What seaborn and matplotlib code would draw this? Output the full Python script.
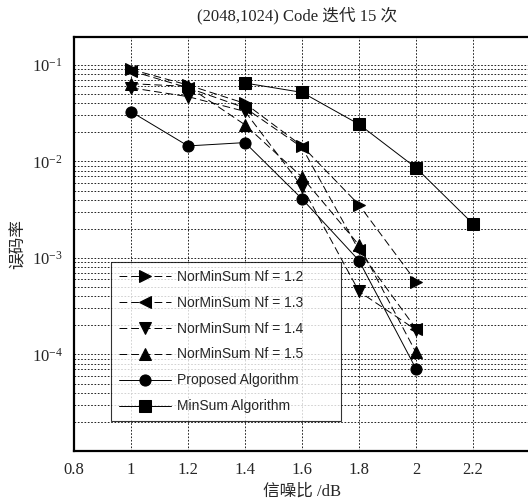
import pandas as pd
import numpy as np
import matplotlib
matplotlib.use("Agg")
import matplotlib.pyplot as plt
from matplotlib.ticker import FixedLocator, LogLocator, NullFormatter
import seaborn as sns

# values
snr = [1.0, 1.2, 1.4, 1.6, 1.8, 2.0]
snr_minsum = [1.4, 1.6, 1.8, 2.0, 2.2]

ber_nf12 = [0.090, 0.062, 0.040, 0.0145, 0.00355, 0.00057]
ber_nf13 = [0.087, 0.058, 0.036, 0.0140, 0.00120, 0.000185]
ber_nf14 = [0.058, 0.047, 0.033, 0.0055, 0.00045, 0.000180]
ber_nf15 = [0.064, 0.060, 0.024, 0.0069, 0.00136, 0.000105]
ber_proposed = [0.0328, 0.0145, 0.0157, 0.0041, 0.00094, 0.000071]
ber_minsum = [0.065, 0.052, 0.0243, 0.0086, 0.00226]

labels = ["NorMinSum Nf = 1.2", "NorMinSum Nf = 1.3", "NorMinSum Nf = 1.4",
          "NorMinSum Nf = 1.5", "Proposed Algorithm", "MinSum Algorithm"]
marker_list = [">", "<", "v", "^", "o", "s"]
dashed = [True, True, True, True, False, False]

x_ticks = [0.8, 1.0, 1.2, 1.4, 1.6, 1.8, 2.0, 2.2]
x_ticklabels = ["0.8", "1", "1.2", "1.4", "1.6", "1.8", "2", "2.2"]
y_ticks = [1e-4, 1e-3, 1e-2, 1e-1]

rows = []
series = [ber_nf12, ber_nf13, ber_nf14, ber_nf15, ber_proposed]
for lab, vals in zip(labels[:5], series):
    for x, y in zip(snr, vals):
        rows.append((lab, x, y))
for x, y in zip(snr_minsum, ber_minsum):
    rows.append((labels[5], x, y))
df = pd.DataFrame(rows, columns=["algo", "snr", "ber"])

sns.set_style("white")
plt.rcParams["font.family"] = ["Liberation Serif", "Noto Sans CJK SC"]
plt.rcParams["mathtext.fontset"] = "custom"
plt.rcParams["mathtext.rm"] = "Liberation Serif"
plt.rcParams["mathtext.it"] = "Liberation Serif:italic"

fig = plt.figure(figsize=(5.28, 5.0), dpi=100)
ax = fig.add_axes([74 / 528, 1 - 451 / 500, 456 / 528, 414 / 500])

sns.lineplot(data=df, x="snr", y="ber", hue="algo", style="algo",
             hue_order=labels, style_order=labels,
             palette=["black"] * 6,
             markers=dict(zip(labels, marker_list)),
             dashes={l: ((8, 4) if d else "") for l, d in zip(labels, dashed)},
             markersize=8, linewidth=0.7, markeredgecolor="black",
             ax=ax, legend=True)

ax.set_yscale("log")
ax.set_xlim(0.8, 2.4)
ax.set_ylim(1e-5, 0.195)

ax.xaxis.set_major_locator(FixedLocator(x_ticks))
ax.set_xticklabels(x_ticklabels, fontsize=12)
ax.yaxis.set_major_locator(FixedLocator(y_ticks))
ax.set_yticklabels([r"$10^{%d}$" % int(round(np.log10(t))) for t in y_ticks],
                   fontsize=12)
ax.yaxis.set_minor_locator(LogLocator(base=10, subs=np.arange(2, 10), numticks=20))
ax.yaxis.set_minor_formatter(NullFormatter())
ax.tick_params(axis="both", which="both", length=0, pad=8)

grid_kw = dict(linestyle=(0, (2, 2)), color="black", linewidth=0.6)
ax.grid(True, which="major", axis="both", **grid_kw)
ax.grid(True, which="minor", axis="y", **grid_kw)

for s in ax.spines.values():
    s.set_color("black")
    s.set_linewidth(1.6)

ax.set_xlabel("信噪比 /dB", fontsize=12, labelpad=4)
ax.set_ylabel("误码率", fontsize=12, labelpad=4)
ax.set_title("(2048,1024) Code 迭代 15 次", fontsize=12, pad=12, x=(297 - 74) / 456)

# legend box spans x 111..341, y 262..419 in the reference
lx0, lx1, ly0, ly1 = 111, 341, 262, 419
handles, leg_labels = ax.get_legend_handles_labels()
leg = ax.legend(handles, leg_labels, loc="upper left", mode="expand",
                bbox_to_anchor=((lx0 - 74) / 456, (451 - ly1) / 414,
                                (lx1 - lx0) / 456, (ly1 - ly0) / 414),
                borderaxespad=0,
                frameon=True, fancybox=False, edgecolor="black",
                handlelength=3.8, handletextpad=0.4, labelspacing=0.86,
                borderpad=0.55,
                prop={"family": "Liberation Sans", "size": 10})
leg.get_frame().set_linewidth(0.8)

fig.savefig("out.png", dpi=100)
